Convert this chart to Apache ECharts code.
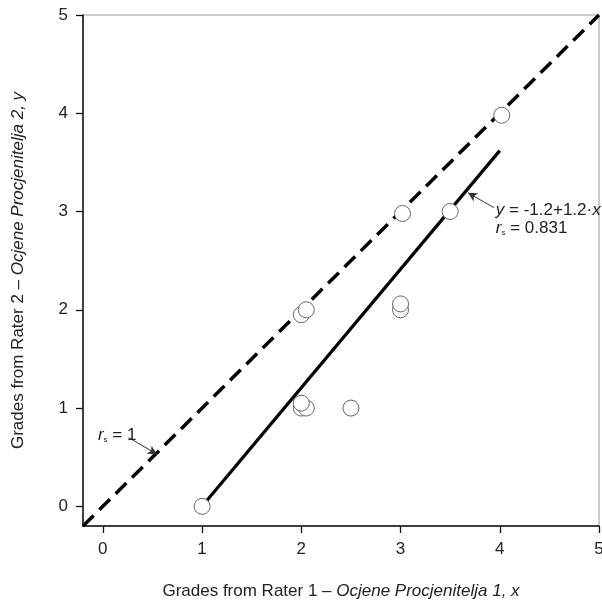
<!DOCTYPE html>
<html><head><meta charset="utf-8">
<script src="https://cdn.jsdelivr.net/npm/echarts@6/dist/echarts.min.js"></script>
<style>html,body{margin:0;padding:0;background:#fff}#c{width:602px;height:606px}</style>
</head><body><div id="c"></div>
<script>
const tickValues = [0, 1, 2, 3, 4, 5];
const raterX = [1, 2, 2.05, 3.02, 4.02, 3.5, 3, 3, 2, 2.05, 2, 2.5];
const raterY = [0, 1.95, 2.0, 2.98, 3.98, 3.0, 2.0, 2.06, 1.0, 1.0, 1.05, 1.0];
const fitX = [1, 4];
const fitY = [0, 3.62];
const identityX = [-0.2, 5];
const identityY = [-0.2, 5];
const fitLabel = '{i|y} = -1.2+1.2·{i|x}';
const fitRsLabel = '{i|r}{s|s}{n| = 0.831}';
const idRsLabel = '{i|r}{s|s}{n| = 1}';

const FONT = '"Liberation Sans", Arial, sans-serif';
const chart = echarts.init(document.getElementById('c'), null, {renderer: 'canvas'});
const pts = raterX.map((x, i) => [x, raterY[i]]);
const fit = fitX.map((x, i) => [x, fitY[i]]);
const ident = identityX.map((x, i) => [x, identityY[i]]);
const nameRich = {
  n: {fontFamily: FONT, fontSize: 17, color: '#222'},
  i: {fontFamily: FONT, fontSize: 17, color: '#222', fontStyle: 'italic'}
};
function axis(nameStr, gap, isY) {
  return {
    type: 'value', min: -0.2, max: 5,
    name: nameStr, nameLocation: 'middle', nameGap: gap,
    nameTextStyle: {rich: nameRich},
    axisLine: {show: true, onZero: false, lineStyle: {color: '#111', width: 1.5}},
    axisTick: {show: true, length: 7, inside: false, customValues: tickValues, lineStyle: {color: '#111', width: 1.3}},
    axisLabel: {customValues: tickValues, fontFamily: FONT, fontSize: 17, color: '#222', margin: 15, hideOverlap: false},
    splitLine: {show: false}
  };
}
chart.setOption({
  animation: false,
  backgroundColor: '#fff',
  grid: {left: 83, right: 3, top: 15, bottom: 80, show: true, borderColor: '#999', borderWidth: 1,
         containLabel: false, outerBoundsMode: 'none'},
  xAxis: axis('{n|Grades from Rater 1 – }{i|Ocjene Procjenitelja 1, x}', 57, false),
  yAxis: axis('{n|Grades from Rater 2 – }{i|Ocjene Procjenitelja 2, y}', 56, true),
  series: [
    {type: 'line', data: ident, symbol: 'none', z: 2,
     lineStyle: {color: '#000', width: 3.5, type: [15, 8]},
     markLine: {silent: true, symbol: ['none', 'arrow'], symbolSize: [7, 9], label: {show: false},
       lineStyle: {color: '#333', width: 1, type: 'solid'},
       data: [
         [{coord: [0.26, 0.70]}, {coord: [0.545, 0.53]}],
         [{coord: [3.94, 3.04]}, {coord: [3.68, 3.19]}]
       ]}},
    {type: 'line', data: fit, symbol: 'none', z: 3, lineStyle: {color: '#000', width: 3.2}},
    {type: 'scatter', data: pts, symbol: 'circle', symbolSize: 16, z: 5,
     itemStyle: {color: '#fff', borderColor: '#666', borderWidth: 1, opacity: 1}}
  ]
});
const rich = {
  i: {fontFamily: FONT, fontSize: 17, color: '#222', fontStyle: 'italic'},
  n: {fontFamily: FONT, fontSize: 17, color: '#222'},
  s: {fontFamily: FONT, fontSize: 8, color: '#222', verticalAlign: 'bottom', padding: [8, 0, 0, 0]}
};
function txt(text, x, y) {
  const p = chart.convertToPixel({gridIndex: 0}, [x, y]);
  return {type: 'text', x: p[0], y: p[1], z: 10,
    style: {text: text, rich: rich, fontFamily: FONT, fontSize: 17, fill: '#222', verticalAlign: 'middle', align: 'left'}};
}
chart.setOption({graphic: [
  txt(fitLabel, 3.96, 3.01),
  txt(fitRsLabel, 3.96, 2.83),
  txt(idRsLabel, -0.05, 0.72)
]});
</script></body></html>
